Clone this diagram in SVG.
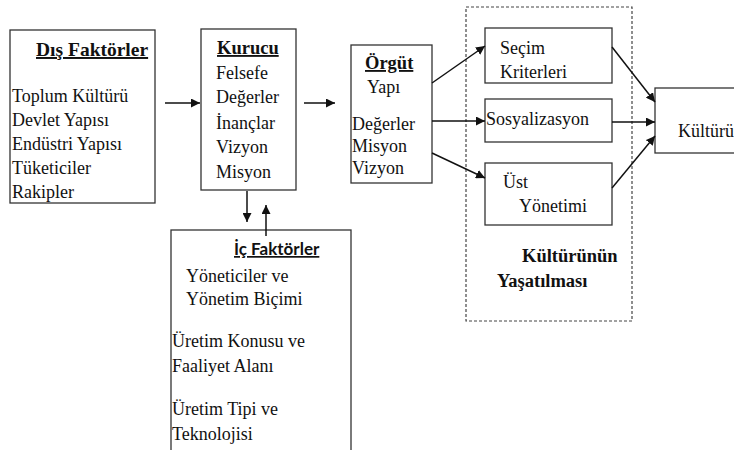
<svg xmlns="http://www.w3.org/2000/svg" width="734" height="450" viewBox="0 0 734 450">
<style>
.box{fill:#fff;stroke:#333;stroke-width:1.3}
.dash{fill:none;stroke:#444;stroke-width:1.2;stroke-dasharray:3,2}
.t{font-family:"Liberation Serif","Times New Roman",serif;font-size:18px;fill:#111}
.b{font-family:"Liberation Serif","Times New Roman",serif;font-size:18.5px;font-weight:bold;fill:#111}
.s{font-family:Lato,"Liberation Sans",sans-serif;font-size:17px;font-weight:bold;fill:#111}
.u{text-decoration:underline}
.c{stroke:#111;stroke-width:1.5;fill:none;marker-end:url(#ah)}
</style>
<defs>
<marker id="ah" viewBox="0 0 10 10" refX="10" refY="5" markerWidth="9" markerHeight="9" markerUnits="userSpaceOnUse" orient="auto">
<path d="M0,0 L10,5 L0,10 z" fill="#111"/>
</marker>
</defs>
<rect width="734" height="450" fill="#fff"/>
<g id="kulturun-yasatilmasi">
<rect class="dash" x="466" y="7" width="166" height="314"/>
<text class="b" x="522" y="262">Kültürünün</text>
<text class="b" x="497" y="287">Yaşatılması</text>
</g>
<g id="dis-faktorler">
<rect class="box" x="10" y="30" width="145" height="173"/>
<text class="b u" x="36" y="56" style="font-size:19.5px">Dış Faktörler</text>
<text class="t" x="12" y="102">Toplum Kültürü</text>
<text class="t" x="12" y="126">Devlet Yapısı</text>
<text class="t" x="12" y="150">Endüstri Yapısı</text>
<text class="t" x="12" y="174">Tüketiciler</text>
<text class="t" x="12" y="198">Rakipler</text>
</g>
<g id="kurucu">
<rect class="box" x="201" y="29" width="95" height="161"/>
<text class="b u" x="217" y="54">Kurucu</text>
<text class="t" x="216" y="79">Felsefe</text>
<text class="t" x="216" y="103">Değerler</text>
<text class="t" x="216" y="129">İnançlar</text>
<text class="t" x="216" y="153">Vizyon</text>
<text class="t" x="216" y="178">Misyon</text>
</g>
<g id="ic-faktorler">
<rect class="box" x="171" y="230" width="180" height="240"/>
<text class="s u" x="234" y="255">İç Faktörler</text>
<text class="t" x="186" y="282">Yöneticiler ve</text>
<text class="t" x="186" y="305">Yönetim Biçimi</text>
<text class="t" x="172" y="347">Üretim Konusu ve</text>
<text class="t" x="172" y="372">Faaliyet Alanı</text>
<text class="t" x="172" y="415">Üretim Tipi ve</text>
<text class="t" x="172" y="440">Teknolojisi</text>
</g>
<g id="orgut">
<rect class="box" x="351" y="45" width="81" height="138"/>
<text class="b u" x="365" y="69">Örgüt</text>
<text class="t" x="367" y="93">Yapı</text>
<text class="t" x="352" y="130">Değerler</text>
<text class="t" x="352" y="152">Misyon</text>
<text class="t" x="352" y="174">Vizyon</text>
</g>
<g id="secim">
<rect class="box" x="485" y="28" width="127" height="55"/>
<text class="t" x="500" y="54">Seçim</text>
<text class="t" x="500" y="78">Kriterleri</text>
</g>
<g id="sosyalizasyon">
<rect class="box" x="485" y="99" width="127" height="43"/>
<text class="t" x="486" y="125">Sosyalizasyon</text>
</g>
<g id="ust-yonetimi">
<rect class="box" x="485" y="163" width="127" height="62"/>
<text class="t" x="503" y="188">Üst</text>
<text class="t" x="519" y="212">Yönetimi</text>
</g>
<g id="kultur">
<rect class="box" x="655" y="88" width="100" height="65"/>
<text class="t" x="678" y="137">Kültürü</text>
</g>
<g id="connectors">
<line class="c" x1="165" y1="103" x2="200" y2="103"/>
<line class="c" x1="304" y1="103" x2="335" y2="103"/>
<line class="c" x1="247" y1="191" x2="247" y2="222"/>
<line class="c" x1="266" y1="236" x2="266" y2="205"/>
<line class="c" x1="432" y1="83" x2="485" y2="46"/>
<line class="c" x1="432" y1="121" x2="485" y2="121"/>
<line class="c" x1="432" y1="153" x2="485" y2="178"/>
<line class="c" x1="612" y1="47" x2="655" y2="102"/>
<line class="c" x1="612" y1="122" x2="655" y2="122"/>
<line class="c" x1="612" y1="188" x2="655" y2="136"/>
</g>
</svg>
